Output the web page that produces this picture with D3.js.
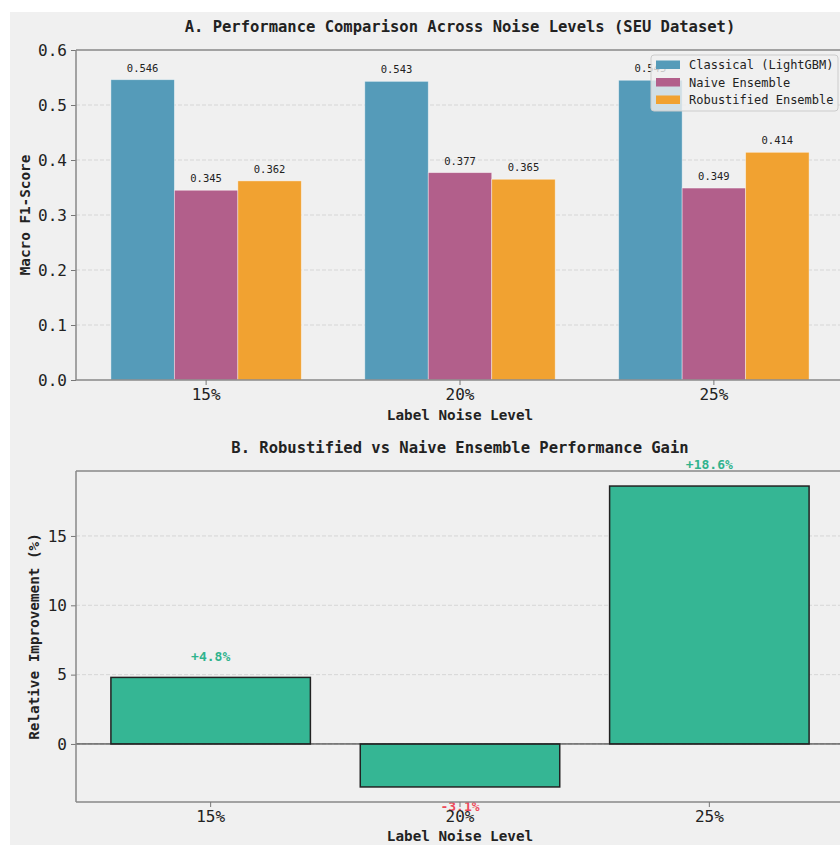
<!DOCTYPE html>
<html>
<head>
<meta charset="utf-8">
<script src="https://cdn.jsdelivr.net/npm/d3@7"></script>
<style>
    body { margin: 0; background: #fff; }
    svg text { font-family: "DejaVu Sans Mono", monospace; fill: #222; }
</style>
</head>
<body>
<div id="chart"></div>
<script>
// Values
const noiseLevels = ['15%', '20%', '25%'];
const seriesNames = ['Classical (LightGBM)', 'Naive Ensemble', 'Robustified Ensemble'];
const classicalScores = [0.546, 0.543, 0.545];
const naiveScores = [0.345, 0.377, 0.349];
const robustScores = [0.362, 0.365, 0.414];
const relativeGain = [4.8, -3.1, 18.6];
const scoreTicks = [0.0, 0.1, 0.2, 0.3, 0.4, 0.5, 0.6];
const gainTicks = [0, 5, 10, 15];

const seriesColors = ['#559bb9', '#b25f8b', '#f1a231'];
const gainColor = '#35b694';

class PerformanceFigure {
    constructor(_config) {
        this.config = {
            parentElement: _config.parentElement,
            width: 840,
            height: 845
        };
        this.initVis();
    }

    initVis() {
        let vis = this;

        vis.svg = d3.select(vis.config.parentElement)
            .append('svg')
            .attr('width', vis.config.width)
            .attr('height', vis.config.height);

        // figure background
        vis.svg.append('rect')
            .attr('x', 10).attr('y', 12)
            .attr('width', vis.config.width - 10)
            .attr('height', vis.config.height - 12)
            .attr('fill', '#f0f0f0');

        vis.left = 76;
        vis.right = 844;

        vis.renderTop();
        vis.renderBottom();
    }

    // shared axis drawing: spines, grid, ticks
    drawFrame(g, yScale, ticks, fmt, top, bottom) {
        let vis = this;

        g.append('g')
            .selectAll('line')
            .data(ticks.filter(t => yScale(t) > top + 1 && yScale(t) < bottom - 1))
            .join('line')
            .attr('x1', vis.left).attr('x2', vis.right)
            .attr('y1', d => yScale(d)).attr('y2', d => yScale(d))
            .attr('stroke', '#cfcfcf')
            .attr('stroke-width', 0.8)
            .attr('stroke-dasharray', '4,2');

        const yAxis = d3.axisLeft(yScale)
            .tickValues(ticks)
            .tickFormat(fmt)
            .tickSize(5)
            .tickPadding(4);

        g.append('g')
            .attr('transform', `translate(${vis.left},0)`)
            .call(yAxis)
            .call(a => a.select('.domain').remove())
            .call(a => a.selectAll('.tick line').attr('stroke', '#777'))
            .call(a => a.selectAll('.tick text').style('font-size', '16px'));
    }

    drawSpines(g, top, bottom) {
        let vis = this;
        const spine = [
            [vis.left, top, vis.left, bottom],
            [vis.left, top, vis.right, top],
            [vis.left, bottom, vis.right, bottom]
        ];
        g.selectAll('.spine')
            .data(spine)
            .join('line')
            .attr('class', 'spine')
            .attr('x1', d => d[0]).attr('y1', d => d[1])
            .attr('x2', d => d[2]).attr('y2', d => d[3])
            .attr('stroke', '#888')
            .attr('stroke-width', 1.5);
    }

    renderTop() {
        let vis = this;
        const top = 50, bottom = 380;
        const g = vis.svg.append('g');

        const xScale = d3.scaleBand()
            .domain(noiseLevels)
            .range([vis.left, vis.right])
            .paddingInner(0.25)
            .paddingOuter(0.1375);

        const xSub = d3.scaleBand()
            .domain(seriesNames)
            .range([0, xScale.bandwidth()]);

        const yScale = d3.scaleLinear()
            .domain([0, 0.6])
            .range([bottom, top]);

        vis.drawFrame(g, yScale, scoreTicks, d3.format('.1f'), top, bottom);

        const rows = noiseLevels.map((level, i) => ({
            level: level,
            values: [classicalScores[i], naiveScores[i], robustScores[i]]
                .map((v, j) => ({ series: seriesNames[j], value: v, color: seriesColors[j] }))
        }));

        const groups = g.selectAll('.group')
            .data(rows)
            .join('g')
            .attr('class', 'group')
            .attr('transform', d => `translate(${xScale(d.level)},0)`);

        groups.selectAll('rect')
            .data(d => d.values)
            .join('rect')
            .attr('x', d => xSub(d.series))
            .attr('width', xSub.bandwidth())
            .attr('y', d => yScale(d.value))
            .attr('height', d => bottom - yScale(d.value))
            .attr('fill', d => d.color)
            .attr('stroke', '#ffffff')
            .attr('stroke-opacity', 0.5)
            .attr('stroke-width', 0.8);

        groups.selectAll('.val')
            .data(d => d.values)
            .join('text')
            .attr('class', 'val')
            .attr('x', d => xSub(d.series) + xSub.bandwidth() / 2)
            .attr('y', d => yScale(d.value + 0.01) - 2.5)
            .attr('text-anchor', 'middle')
            .style('font-size', '10.5px')
            .text(d => d3.format('.3f')(d.value));

        vis.drawSpines(g, top, bottom);

        // x axis ticks
        g.append('g')
            .attr('transform', `translate(0,${bottom})`)
            .call(d3.axisBottom(xScale).tickSize(5).tickPadding(4))
            .call(a => a.select('.domain').remove())
            .call(a => a.selectAll('.tick line').attr('stroke', '#777'))
            .call(a => a.selectAll('.tick text').style('font-size', '16px'));

        // titles
        g.append('text')
            .attr('x', (vis.left + vis.right) / 2).attr('y', 31.5)
            .attr('text-anchor', 'middle')
            .style('font-size', '15.5px').style('font-weight', 'bold')
            .text('A. Performance Comparison Across Noise Levels (SEU Dataset)');

        g.append('text')
            .attr('x', (vis.left + vis.right) / 2).attr('y', 420)
            .attr('text-anchor', 'middle')
            .style('font-size', '14.3px').style('font-weight', 'bold')
            .text('Label Noise Level');

        g.append('text')
            .attr('transform', `translate(30,${(top + bottom) / 2}) rotate(-90)`)
            .attr('text-anchor', 'middle')
            .style('font-size', '14.3px').style('font-weight', 'bold')
            .text('Macro F1-Score');

        // legend
        const legend = g.append('g').attr('transform', 'translate(651,55)');
        legend.append('rect')
            .attr('width', 187).attr('height', 56)
            .attr('rx', 3)
            .attr('fill', 'rgba(240,240,240,0.8)')
            .attr('stroke', '#cccccc');
        const items = legend.selectAll('.item')
            .data(seriesNames)
            .join('g')
            .attr('class', 'item')
            .attr('transform', (d, i) => `translate(0,${10 + i * 17.5})`);
        items.append('rect')
            .attr('x', 5).attr('y', -4.5)
            .attr('width', 24).attr('height', 8.5)
            .attr('fill', (d, i) => seriesColors[i]);
        items.append('text')
            .attr('x', 38).attr('y', 4)
            .style('font-size', '12px')
            .text(d => d);
    }

    renderBottom() {
        let vis = this;
        const top = 471, bottom = 802;
        const g = vis.svg.append('g');

        const xScale = d3.scaleBand()
            .domain(noiseLevels)
            .range([vis.left, vis.right])
            .paddingInner(0.2)
            .paddingOuter(0.14);

        // matplotlib style 5% margin around data (bars start at 0)
        const lo = Math.min(0, d3.min(relativeGain));
        const hi = Math.max(0, d3.max(relativeGain));
        const pad = (hi - lo) * 0.05;
        const yScale = d3.scaleLinear()
            .domain([lo - pad, hi + pad])
            .range([bottom, top]);

        vis.drawFrame(g, yScale, gainTicks, d3.format('d'), top, bottom);

        const data = noiseLevels.map((level, i) => ({ level: level, value: relativeGain[i] }));

        g.selectAll('.gain')
            .data(data)
            .join('rect')
            .attr('class', 'gain')
            .attr('x', d => xScale(d.level))
            .attr('width', xScale.bandwidth())
            .attr('y', d => yScale(Math.max(0, d.value)))
            .attr('height', d => Math.abs(yScale(d.value) - yScale(0)))
            .attr('fill', gainColor)
            .attr('stroke', '#222')
            .attr('stroke-width', 1.5);

        // zero line
        g.append('line')
            .attr('x1', vis.left).attr('x2', vis.right)
            .attr('y1', yScale(0)).attr('y2', yScale(0))
            .attr('stroke', '#222')
            .attr('stroke-width', 1);

        g.selectAll('.gainLabel')
            .data(data)
            .join('text')
            .attr('class', 'gainLabel')
            .attr('x', d => xScale(d.level) + xScale.bandwidth() / 2)
            .attr('y', d => d.value >= 0 ? yScale(d.value + 1) - 3 : yScale(d.value - 1) + 10)
            .attr('text-anchor', 'middle')
            .style('font-size', '13px').style('font-weight', 'bold')
            .style('fill', d => d.value >= 0 ? '#2fb38d' : '#ee4a5a')
            .text(d => (d.value >= 0 ? '+' : '') + d.value.toFixed(1) + '%');

        vis.drawSpines(g, top, bottom);

        g.append('g')
            .attr('transform', `translate(0,${bottom})`)
            .call(d3.axisBottom(xScale).tickSize(5).tickPadding(4))
            .call(a => a.select('.domain').remove())
            .call(a => a.selectAll('.tick line').attr('stroke', '#777'))
            .call(a => a.selectAll('.tick text').style('font-size', '16px'));

        g.append('text')
            .attr('x', (vis.left + vis.right) / 2).attr('y', 453)
            .attr('text-anchor', 'middle')
            .style('font-size', '15.5px').style('font-weight', 'bold')
            .text('B. Robustified vs Naive Ensemble Performance Gain');

        g.append('text')
            .attr('x', (vis.left + vis.right) / 2).attr('y', 841)
            .attr('text-anchor', 'middle')
            .style('font-size', '14.3px').style('font-weight', 'bold')
            .text('Label Noise Level');

        g.append('text')
            .attr('transform', `translate(39,${(top + bottom) / 2}) rotate(-90)`)
            .attr('text-anchor', 'middle')
            .style('font-size', '14.3px').style('font-weight', 'bold')
            .text('Relative Improvement (%)');
    }
}

new PerformanceFigure({ parentElement: '#chart' });
</script>
</body>
</html>
